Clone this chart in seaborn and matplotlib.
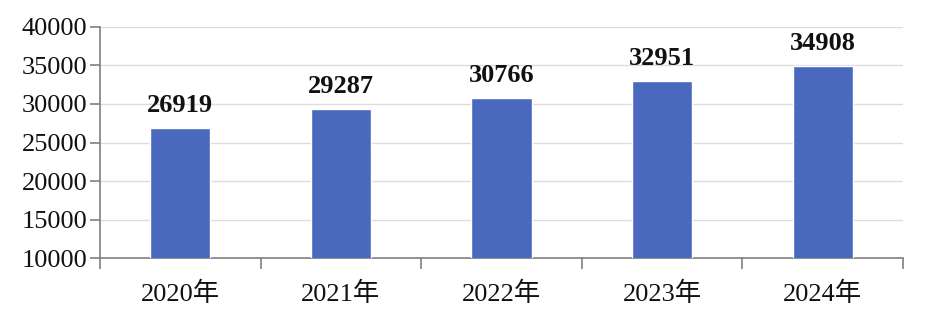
import matplotlib
matplotlib.use("Agg")
import matplotlib.pyplot as plt
import seaborn as sns
import pandas as pd
import numpy as np
from matplotlib.ticker import FixedLocator

years = ["2020年", "2021年", "2022年", "2023年", "2024年"]
values = [26919, 29287, 30766, 32951, 34908]
yticks = [10000, 15000, 20000, 25000, 30000, 35000, 40000]

sns.set_theme(style="white")
plt.rcParams['font.family'] = ['Liberation Serif', 'Noto Sans CJK SC', 'DejaVu Sans']

df = pd.DataFrame({"year": years, "value": values})

fig = plt.figure(figsize=(9.27, 3.25), dpi=100)
ax = fig.add_axes([0.108, 0.206, 0.866, 0.711])

sns.barplot(data=df, x="year", y="value", color="#4A68BE", width=0.375,
            saturation=1, ax=ax, zorder=3)

ax.set_ylim(10000, 40000)
ax.set_xlim(-0.5, 4.5)
ax.set_yticks(yticks)
ax.set_yticklabels([str(v) for v in yticks])
ax.yaxis.grid(True, color="#DDDDDD", linewidth=1, zorder=0)
ax.set_axisbelow(True)
ax.set_xlabel("")
ax.set_ylabel("")

for s in ["top", "right"]:
    ax.spines[s].set_visible(False)
for s in ["left", "bottom"]:
    ax.spines[s].set_color("#7F7F7F")
    ax.spines[s].set_linewidth(1.2)

ax.tick_params(axis="y", which="major", left=True, length=7, width=1.2,
               color="#7F7F7F", labelsize=19, pad=2, labelcolor="#111111")
ax.tick_params(axis="x", which="major", bottom=False, labelsize=19, pad=11,
               labelcolor="#111111")
ax.xaxis.set_minor_locator(FixedLocator(np.arange(-0.5, 5.0, 1.0)))
ax.tick_params(axis="x", which="minor", bottom=True, length=8, width=1.2,
               color="#7F7F7F")

for c in ax.containers:
    ax.bar_label(c, labels=[str(v) for v in values], padding=8,
                 fontsize=19, fontweight="bold", color="#111111")

fig.savefig("out.png", dpi=100)
